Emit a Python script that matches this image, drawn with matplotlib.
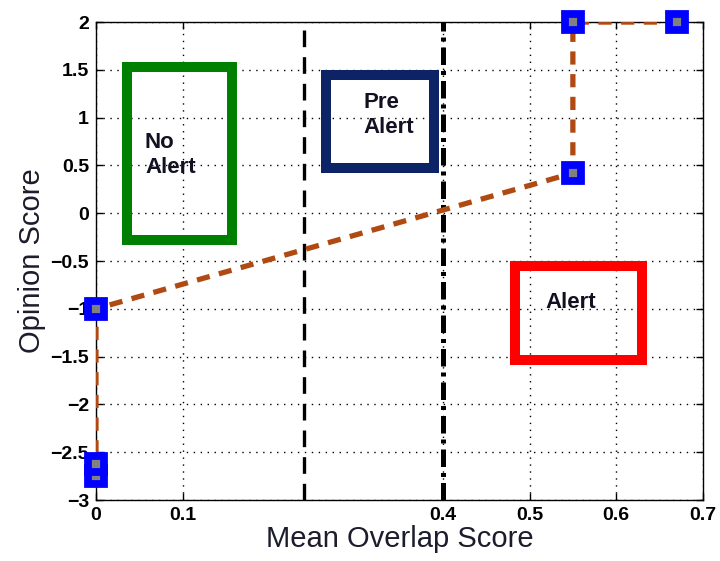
import matplotlib
matplotlib.use("Agg")
import matplotlib.pyplot as plt
from matplotlib.patches import Rectangle

plt.rcParams['font.family'] = ['Liberation Sans', 'DejaVu Sans']

# Data
curve_x = [0.0, 0.0, 0.0, 0.55, 0.55, 0.67]
curve_y = [-2.75, -2.62, -1.0, 0.42, 2.0, 2.0]
thresholds = [0.24, 0.4]
x_ticks = [0, 0.1, 0.4, 0.5, 0.6, 0.7]
x_tick_labels = ['0', '0.1', '0.4', '0.5', '0.6', '0.7']
y_ticks = [-3, -2.5, -2, -1.5, -1, -0.5, 0, 0.5, 1, 1.5, 2]
y_tick_labels = ['\u22123', '\u22122.5', '\u22122', '\u22121.5', '\u22121', '\u22120.5', '0', '0.5', '1', '1.5', '2']
# Boxes
box_labels = ['No\nAlert', 'Pre\nAlert', 'Alert']
box_x0 = [0.036, 0.265, 0.483]
box_x1 = [0.157, 0.390, 0.630]
box_y0 = [-0.28, 0.473, -1.535]
box_y1 = [1.53, 1.445, -0.552]
box_colors = ['#008000', '#0c2466', '#ff0000']
label_x = [0.0565, 0.309, 0.518]
label_y = [0.61, 1.03, -0.93]

fig = plt.figure(figsize=(7.2, 5.61), dpi=100)
ax = fig.add_axes([0.1333, 0.1087, 0.843, 0.852])

ax.set_xlim(0, 0.7)
ax.set_ylim(-3, 2)
ax.set_xticks(x_ticks)
ax.set_xticklabels(x_tick_labels, fontsize=14, fontweight='bold')
ax.set_yticks(y_ticks)
ax.set_yticklabels(y_tick_labels, fontsize=14, fontweight='bold')
ax.tick_params(direction='in', length=5, width=1, top=True, right=True, pad=5)
ax.grid(True, linestyle=(0, (1, 4)), color='black', linewidth=1.0)
ax.set_axisbelow(True)
for s in ax.spines.values():
    s.set_linewidth(1.0)

for x0, x1, y0, y1, c in zip(box_x0, box_x1, box_y0, box_y1, box_colors):
    ax.add_patch(Rectangle((x0, y0), x1 - x0, y1 - y0, fill=False,
                           edgecolor=c, linewidth=7.2, zorder=3,
                           joinstyle='miter'))
for t, lx, ly in zip(box_labels, label_x, label_y):
    ax.text(lx, ly, t, fontsize=16, fontweight='bold', ha='left', va='center',
            color='#111122', linespacing=1.25, zorder=4)

ax.axvline(thresholds[0], color='black', linewidth=2.4,
           linestyle=(0, (5, 3)), zorder=3)
ax.axvline(thresholds[1], color='black', linewidth=3.6,
           linestyle=(0, (3.5, 1.2, 0.8, 1.2)), zorder=3)

ax.plot(curve_x, curve_y, color='#b04a12', linewidth=3.8,
        linestyle=(0, (2.5, 1.8)), zorder=5)
ax.plot(curve_x, curve_y, linestyle='none', marker='s', markersize=12,
        markeredgewidth=5.6, markeredgecolor='#0000ff',
        markerfacecolor='#808080', zorder=6, clip_on=False)

ax.set_xlabel('Mean Overlap Score', fontsize=21, color='#1c1c2c', labelpad=1)
ax.set_ylabel('Opinion Score', fontsize=21, color='#1c1c2c', labelpad=3)

fig.savefig('out.png', dpi=100)
